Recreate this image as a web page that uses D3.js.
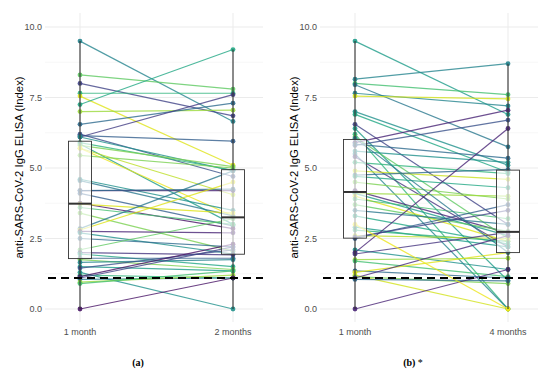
<!DOCTYPE html>
<html>
<head>
<meta charset="utf-8">
<script src="https://cdn.jsdelivr.net/npm/d3@7"></script>
<style>
  body { margin: 0; background: #fff; }
  svg { display: block; }
</style>
</head>
<body>
<div id="chart"></div>
<script>
// Panel (a): 1 month -> 2 months, one entry per subject
const timesA = ["1 month", "2 months"];
const firstA = [9.5, 8.3, 8.0, 7.65, 7.55, 7.25, 7.0, 6.55, 6.2, 6.15, 6.1, 6.1,
  5.9, 5.85, 5.8, 5.7, 5.7, 5.45, 4.6, 4.55, 4.2, 4.2, 4.1, 3.75, 3.72, 3.6, 3.4,
  2.85, 2.8, 2.75, 2.7, 2.5, 2.1, 2.0, 1.95, 1.8, 1.75, 1.65, 1.5, 1.45, 1.3, 1.2,
  1.15, 1.1, 1.05, 0.95, 0.9, 0.0];
const secondA = [6.65, 7.8, 6.85, 7.65, 5.1, 9.2, 7.05, 7.3, 4.7, 5.95, 7.6, 4.9,
  4.92, 3.0, 5.05, 4.05, 3.3, 5.0, 3.5, 3.3, 4.2, 4.25, 2.95, 2.85, 3.4, 3.0, 2.05,
  4.9, 4.5, 2.7, 1.95, 2.2, 3.2, 1.92, 1.5, 1.8, 1.4, 1.75, 1.35, 2.1, 0.0, 1.1,
  2.3, 2.2, 1.1, 1.2, 1.35, 1.1];
const shadeA = [0.45, 0.75, 0.2, 0.65, 0.95, 0.6, 0.85, 0.35, 0.25, 0.3, 0.18, 0.5,
  0.65, 0.55, 0.8, 0.9, 0.97, 0.8, 0.5, 0.4, 0.1, 0.35, 0.3, 0.05, 0.95, 0.7, 0.8,
  0.4, 0.95, 0.1, 0.5, 0.35, 0.75, 0.15, 0.6, 0.3, 0.8, 0.45, 0.55, 0.25, 0.5, 0.65,
  0.05, 0.2, 0.4, 0.85, 0.7, 0.05];

// Panel (b): 1 month -> 4 months
const timesB = ["1 month", "4 months"];
const firstB = [9.5, 8.15, 8.0, 7.95, 7.65, 7.55, 7.0, 6.9, 6.55, 6.4, 6.2, 6.1,
  5.9, 5.8, 5.85, 5.6, 5.5, 5.4, 5.2, 4.9, 4.75, 4.7, 4.5, 4.2, 4.1, 4.1, 4.0, 3.9,
  3.7, 3.5, 3.3, 2.9, 2.8, 2.6, 2.5, 2.1, 2.0, 1.95, 2.55, 1.75, 1.7, 1.35, 1.3,
  1.2, 1.15, 1.1, 1.05, 0.0, 3.0, 6.05];
const secondB = [6.9, 8.7, 7.6, 5.75, 7.2, 7.45, 5.1, 4.85, 3.0, 1.0, 0.0, 2.5,
  7.05, 6.7, 5.35, 5.2, 0.0, 2.2, 4.8, 4.6, 4.95, 4.3, 3.9, 2.7, 4.0, 2.6, 2.4, 3.2,
  2.75, 3.0, 2.3, 2.2, 2.4, 2.5, 3.7, 1.4, 6.4, 2.72, 3.5, 1.8, 1.15, 1.1, 2.0, 0.0,
  0.9, 2.6, 1.0, 1.4, 0.0, 2.0];
const shadeB = [0.55, 0.45, 0.7, 0.4, 0.45, 0.93, 0.5, 0.6, 0.2, 0.55, 0.65, 0.75,
  0.1, 0.25, 0.35, 0.5, 0.45, 0.15, 0.65, 0.92, 0.35, 0.6, 0.8, 0.1, 0.85, 0.55,
  0.95, 0.7, 0.75, 0.4, 0.6, 0.55, 0.65, 0.9, 0.3, 0.5, 0.1, 0.15, 0.2, 0.85, 0.7,
  0.35, 0.95, 0.93, 0.8, 0.12, 0.35, 0.1, 0.97, 0.4];

const yTicks = [0, 2.5, 5, 7.5, 10];
const cutoff = 1.1;

const svg = d3.select("#chart").append("svg")
  .attr("width", 550)
  .attr("height", 375);

function drawPanel(left, times, first, second, shade, caption, star) {
  const g = svg.append("g").attr("transform", `translate(${left},0)`);

  const y = d3.scaleLinear().domain([0, 10]).range([309, 27]);
  const x = d3.scalePoint().domain(times).range([80, 233]);
  const panelTop = 13, panelBottom = 322, panelLeft = 45, panelRight = 263;

  // grid: minor then major
  const minor = d3.range(1.25, 10, 2.5);
  g.selectAll(".minor").data(minor).enter().append("line")
    .attr("x1", panelLeft).attr("x2", panelRight)
    .attr("y1", d => y(d)).attr("y2", d => y(d))
    .attr("stroke", "#f2f2f2").attr("stroke-width", 0.6);
  g.selectAll(".major").data(yTicks).enter().append("line")
    .attr("x1", panelLeft).attr("x2", panelRight)
    .attr("y1", d => y(d)).attr("y2", d => y(d))
    .attr("stroke", "#ebebeb").attr("stroke-width", 1);
  g.selectAll(".vgrid").data(times).enter().append("line")
    .attr("x1", d => x(d)).attr("x2", d => x(d))
    .attr("y1", panelTop).attr("y2", panelBottom)
    .attr("stroke", "#ebebeb").attr("stroke-width", 1);

  // y tick labels
  g.selectAll(".ytick").data(yTicks).enter().append("text")
    .attr("x", panelLeft - 3).attr("y", d => y(d))
    .attr("dy", "0.35em").attr("text-anchor", "end")
    .attr("font-family", "Liberation Sans, Arial, sans-serif")
    .attr("font-size", 9).attr("fill", "#4d4d4d")
    .text(d3.format(".1f"));

  // x tick labels
  g.selectAll(".xtick").data(times).enter().append("text")
    .attr("x", d => x(d)).attr("y", 335)
    .attr("text-anchor", "middle")
    .attr("font-family", "Liberation Sans, Arial, sans-serif")
    .attr("font-size", 9).attr("fill", "#4d4d4d")
    .text(d => d);

  // y axis title
  g.append("text")
    .attr("transform", `translate(23,${(panelTop + panelBottom) / 2}) rotate(-90)`)
    .attr("text-anchor", "middle")
    .attr("font-family", "Liberation Sans, Arial, sans-serif")
    .attr("font-size", 11.3).attr("fill", "#000")
    .text("anti-SARS-CoV-2 IgG ELISA (Index)");

  const subjects = first.map((v, i) => ({ a: v, b: second[i], c: d3.interpolateViridis(shade[i]) }));

  // paired lines
  g.selectAll(".pair").data(subjects).enter().append("line")
    .attr("x1", x(times[0])).attr("x2", x(times[1]))
    .attr("y1", d => y(d.a)).attr("y2", d => y(d.b))
    .attr("stroke", d => d.c).attr("stroke-width", 1.2)
    .attr("stroke-opacity", 0.8);

  // points
  [["a", times[0]], ["b", times[1]]].forEach(([k, t]) => {
    g.selectAll(".pt" + k).data(subjects).enter().append("circle")
      .attr("cx", x(t)).attr("cy", d => y(d[k]))
      .attr("r", 2.4).attr("fill", d => d.c).attr("fill-opacity", 0.9);
  });

  // boxplots
  [[first, times[0]], [second, times[1]]].forEach(([vals, t]) => {
    const s = vals.slice().sort(d3.ascending);
    const q1 = d3.quantileSorted(s, 0.25);
    const med = d3.quantileSorted(s, 0.5);
    const q3 = d3.quantileSorted(s, 0.75);
    const cx = x(t), hw = 11.5;
    g.append("line")
      .attr("x1", cx).attr("x2", cx)
      .attr("y1", y(d3.min(s))).attr("y2", y(d3.max(s)))
      .attr("stroke", "#333").attr("stroke-width", 1.1);
    g.append("rect")
      .attr("x", cx - hw).attr("width", hw * 2)
      .attr("y", y(q3)).attr("height", y(q1) - y(q3))
      .attr("fill", "#fff").attr("fill-opacity", 0.65)
      .attr("stroke", "#333").attr("stroke-width", 0.9);
    g.append("line")
      .attr("x1", cx - hw).attr("x2", cx + hw)
      .attr("y1", y(med)).attr("y2", y(med))
      .attr("stroke", "#333").attr("stroke-width", 2);
  });

  // cutoff
  g.append("line")
    .attr("x1", panelLeft + 3).attr("x2", panelRight)
    .attr("y1", y(cutoff)).attr("y2", y(cutoff))
    .attr("stroke", "#000").attr("stroke-width", 2.2)
    .attr("stroke-dasharray", "8,5");

  // caption
  const cap = g.append("text")
    .attr("x", 138).attr("y", 366)
    .attr("text-anchor", "middle")
    .attr("font-family", "Liberation Serif, Times New Roman, serif")
    .attr("font-size", 10).attr("fill", "#000");
  cap.append("tspan").attr("font-weight", "bold").text(caption);
  if (star) cap.append("tspan").text(" *");
}

drawPanel(0, timesA, firstA, secondA, shadeA, "(a)", false);
drawPanel(275, timesB, firstB, secondB, shadeB, "(b)", true);
</script>
</body>
</html>
